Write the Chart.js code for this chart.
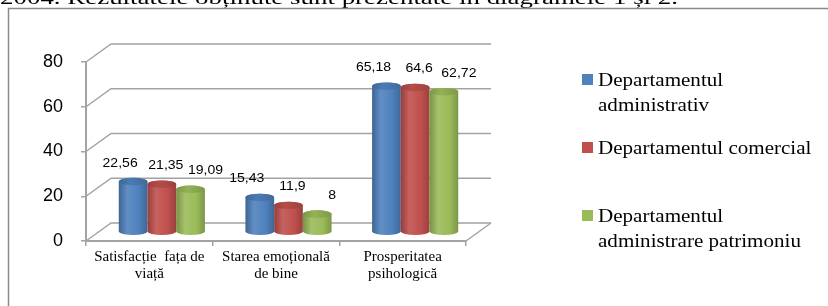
<!DOCTYPE html>
<html>
<head>
<meta charset="utf-8">
<script src="https://cdn.jsdelivr.net/npm/chart.js@4.4.0/dist/chart.umd.min.js"></script>
<style>
  html, body { margin: 0; padding: 0; background: #fff; }
  #chart { display: block; }
</style>
</head>
<body>
<canvas id="chart" width="828" height="306"></canvas>
<script>
var categories = [['Satisfacție  fața de', 'viață'], ['Starea emoțională', 'de bine'], ['Prosperitatea', 'psihologică']];
var seriesNames = ['Departamentul administrativ', 'Departamentul comercial', 'Departamentul administrare patrimoniu'];
var administrativ = [22.56, 15.43, 65.18];
var comercial = [21.35, 11.9, 64.6];
var patrimoniu = [19.09, 8, 62.72];
var yTicks = [0, 20, 40, 60, 80];
var caption = '2004. Rezultatele obținute sunt prezentate în diagramele 1 și 2.';

var colors = ['#4f81bd', '#c0504d', '#9bbb59'];
var gridColor = '#a3a3a3';
var depthX = 25, depthY = -18;
var labelDx = [-13, 4, 15];

function shade(hex, amt) {
    var n = parseInt(hex.slice(1), 16);
    var c = [(n >> 16) & 255, (n >> 8) & 255, n & 255].map(function (v) {
        var t = amt < 0 ? 0 : 255;
        return Math.round(v + (t - v) * Math.abs(amt));
    });
    return 'rgb(' + c.join(',') + ')';
}

function cylinder(ctx, cx, top, bottom, w, color) {
    var rx = w / 2, ry = w * 0.13;
    var l = cx - rx, r = cx + rx;
    var g = ctx.createLinearGradient(l, 0, r, 0);
    g.addColorStop(0, shade(color, -0.22));
    g.addColorStop(0.3, shade(color, 0.1));
    g.addColorStop(0.7, color);
    g.addColorStop(1, shade(color, -0.2));
    ctx.beginPath();
    ctx.moveTo(l, top);
    ctx.lineTo(l, bottom);
    ctx.ellipse(cx, bottom, rx, ry, 0, Math.PI, 0, true);
    ctx.lineTo(r, top);
    ctx.ellipse(cx, top, rx, ry, 0, 0, Math.PI, true);
    ctx.closePath();
    ctx.fillStyle = g;
    ctx.fill();
    var gt = ctx.createLinearGradient(l, 0, r, 0);
    gt.addColorStop(0, shade(color, -0.2));
    gt.addColorStop(0.4, shade(color, -0.05));
    gt.addColorStop(1, shade(color, -0.18));
    ctx.beginPath();
    ctx.ellipse(cx, top, rx, ry, 0, 0, Math.PI * 2);
    ctx.fillStyle = gt;
    ctx.fill();
}

function stretchText(ctx, text, x, y, sx) {
    ctx.save();
    ctx.translate(x, y);
    ctx.scale(sx, 1);
    ctx.fillText(text, 0, 0);
    ctx.restore();
}

function wrap(ctx, text, maxW, sx) {
    var words = text.split(' '), lines = [], cur = '';
    words.forEach(function (w) {
        var t = cur ? cur + ' ' + w : w;
        if (ctx.measureText(t).width * sx > maxW && cur) {
            lines.push(cur);
            cur = w;
        } else {
            cur = t;
        }
    });
    lines.push(cur);
    return lines;
}

var walls = {
    id: 'walls',
    beforeDraw: function (chart) {
        var ctx = chart.ctx;
        ctx.save();
        // page text above the frame, mostly cut off
        ctx.fillStyle = '#000';
        ctx.font = '18px "Liberation Serif"';
        ctx.textBaseline = 'alphabetic';
        var w = ctx.measureText(caption).width;
        stretchText(ctx, caption, 0, 4, 678 / w);
        // frame
        ctx.strokeStyle = '#8a8a8a';
        ctx.lineWidth = 1.5;
        ctx.strokeRect(8.5, 8.5, 840, 320);
        ctx.restore();
    },
    beforeDatasetsDraw: function (chart) {
        var ctx = chart.ctx, a = chart.chartArea, ys = chart.scales.y;
        ctx.save();
        ctx.strokeStyle = gridColor;
        ctx.lineWidth = 1.5;
        yTicks.forEach(function (v) {
            var py = ys.getPixelForValue(v);
            ctx.beginPath();
            ctx.moveTo(a.left, py);
            ctx.lineTo(a.left + depthX, py + depthY);
            ctx.lineTo(a.right + depthX, py + depthY);
            ctx.stroke();
        });
        ctx.beginPath();
        ctx.moveTo(a.right, a.bottom);
        ctx.lineTo(a.right + depthX, a.bottom + depthY);
        ctx.stroke();
        ctx.restore();
    },
    beforeDatasetDraw: function () {
        return false;
    },
    afterDatasetsDraw: function (chart) {
        var ctx = chart.ctx;
        ctx.save();
        var hx = depthX / 2, hy = depthY / 2;
        chart.data.datasets.forEach(function (ds, di) {
            chart.getDatasetMeta(di).data.forEach(function (bar) {
                cylinder(ctx, bar.x + hx, bar.y + hy, bar.base + hy, bar.width, ds.backgroundColor);
            });
        });
        ctx.fillStyle = '#000';
        ctx.font = '13px "Liberation Sans"';
        ctx.textAlign = 'center';
        ctx.textBaseline = 'alphabetic';
        chart.data.datasets.forEach(function (ds, di) {
            chart.getDatasetMeta(di).data.forEach(function (bar, i) {
                var txt = String(ds.data[i]).replace('.', ',');
                stretchText(ctx, txt, bar.x + hx + labelDx[di], bar.y + hy - 15, 1.08);
            });
        });
        // legend
        ctx.textAlign = 'left';
        ctx.font = '18px "Liberation Serif"';
        chart.data.datasets.forEach(function (ds, di) {
            var base = 86 + di * 68;
            ctx.fillStyle = ds.backgroundColor;
            ctx.fillRect(582, base - 12, 11, 11);
            ctx.fillStyle = '#000';
            wrap(ctx, ds.label, 225, 1.17).forEach(function (line, li) {
                stretchText(ctx, line, 598, base + li * 25, 1.17);
            });
        });
        ctx.restore();
    }
};

new Chart(document.getElementById('chart'), {
    type: 'bar',
    data: {
        labels: categories,
        datasets: [
            { label: seriesNames[0], data: administrativ, backgroundColor: colors[0] },
            { label: seriesNames[1], data: comercial, backgroundColor: colors[1] },
            { label: seriesNames[2], data: patrimoniu, backgroundColor: colors[2] }
        ]
    },
    options: {
        responsive: false,
        animation: false,
        layout: { padding: { top: 62, right: 362, bottom: 0, left: 0 } },
        categoryPercentage: 0.68,
        barPercentage: 1,
        plugins: { legend: { display: false }, tooltip: { enabled: false } },
        scales: {
            x: {
                grid: { drawOnChartArea: false, tickLength: 5, color: gridColor, lineWidth: 1.5, offset: true },
                border: { color: gridColor, width: 2 },
                ticks: { color: '#000', font: { family: 'Liberation Serif', size: 15, lineHeight: 1.1 }, padding: 3, maxRotation: 0 },
                afterFit: function (s) { s.height = 65; }
            },
            y: {
                min: yTicks[0],
                max: yTicks[yTicks.length - 1],
                ticks: { stepSize: yTicks[1] - yTicks[0], color: '#000', font: { family: 'Liberation Sans', size: 18 }, padding: 18 },
                grid: { drawOnChartArea: false, tickLength: 5, color: gridColor, lineWidth: 1.5 },
                border: { color: gridColor, width: 2 },
                afterFit: function (s) { s.width = 86; }
            }
        }
    },
    plugins: [walls]
});
</script>
</body>
</html>
